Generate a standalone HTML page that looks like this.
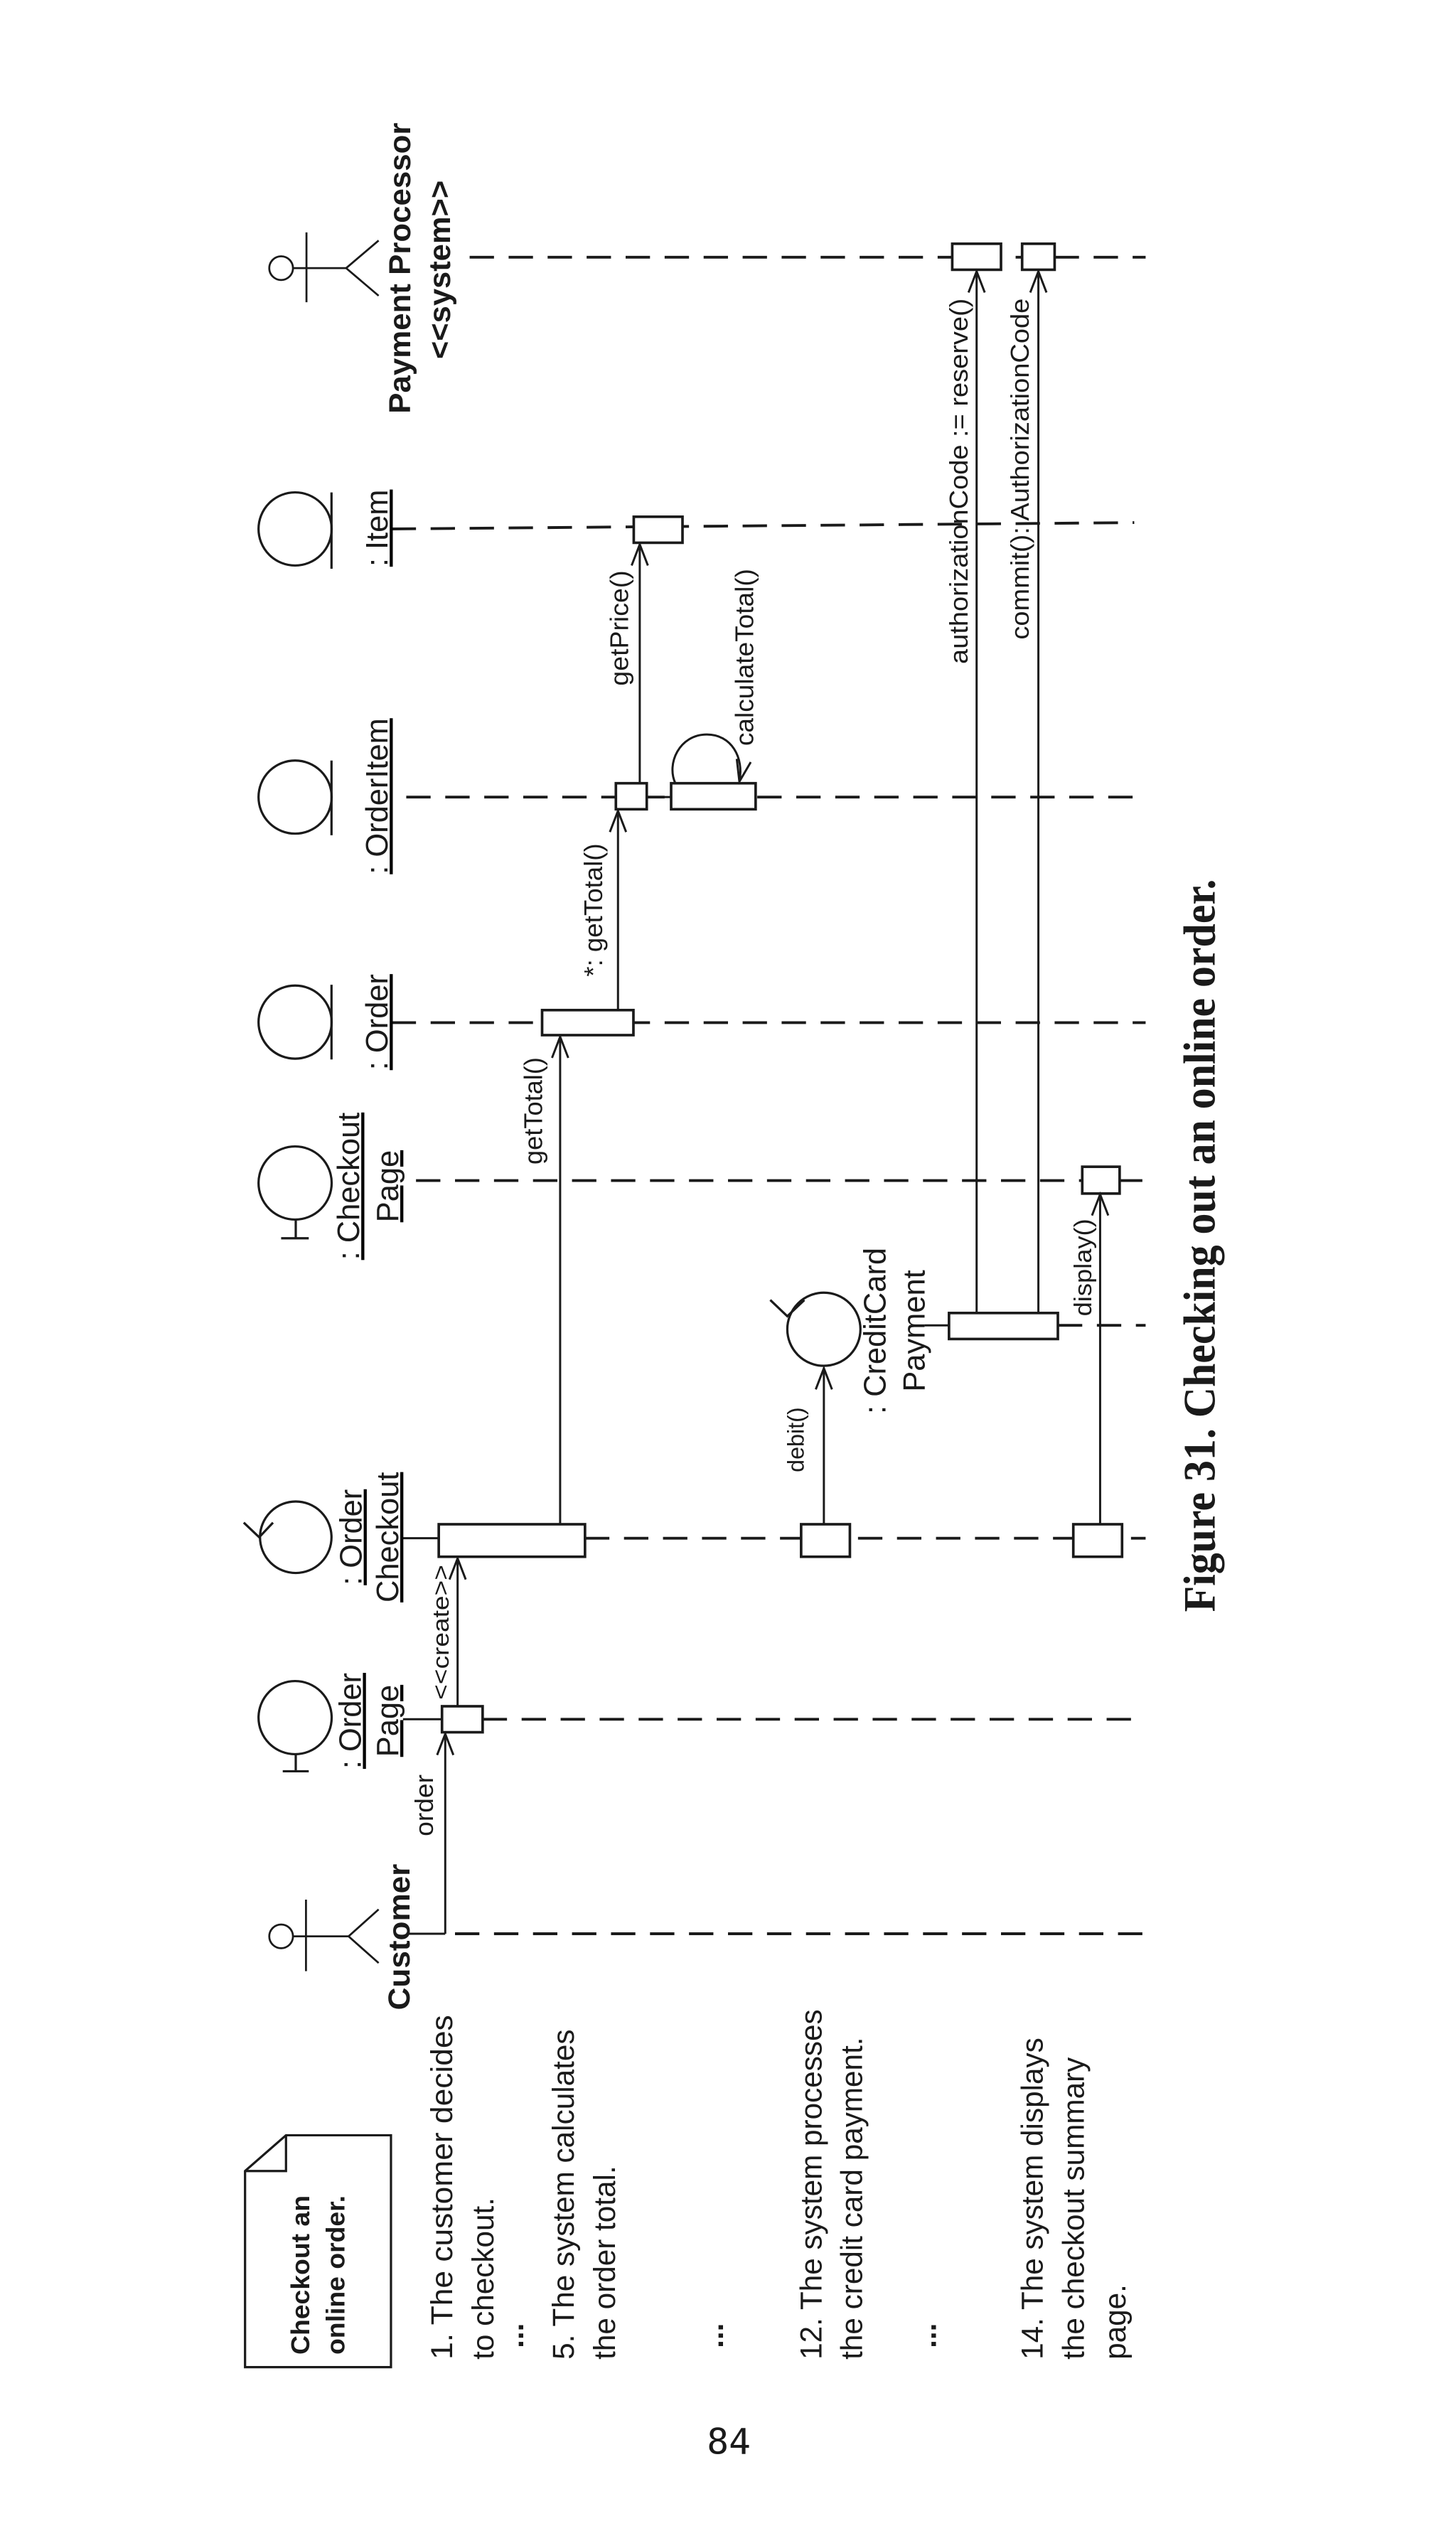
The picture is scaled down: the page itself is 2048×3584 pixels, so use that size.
<!DOCTYPE html>
<html><head><meta charset="utf-8"><style>
html,body{margin:0;padding:0;background:#fff;}
svg{display:block;}
text{font-family:"Liberation Sans",sans-serif;fill:#1a1a1a;}
</style></head><body>
<svg width="2048" height="3584" viewBox="0 0 896 1568" xmlns="http://www.w3.org/2000/svg">
<rect width="896" height="1568" fill="#fff"/>
<g stroke="#1a1a1a" fill="none">
<g stroke-width="1.7" stroke-dasharray="15 9">
<line x1="289" y1="158.3" x2="705" y2="158.3"/>
<line x1="241" y1="325.5" x2="698" y2="321.6"/>
<line x1="250" y1="490.5" x2="705" y2="490.5"/>
<line x1="241" y1="629.3" x2="705" y2="629.3"/>
<line x1="256" y1="726.5" x2="705" y2="726.5"/>
<line x1="651" y1="815.6" x2="705" y2="815.6"/>
<line x1="360" y1="946.6" x2="705" y2="946.6"/>
<line x1="297" y1="1058" x2="705" y2="1058"/>
<line x1="280" y1="1190" x2="705" y2="1190"/>
</g>
<g stroke-width="1.3">
<line x1="569" y1="815.6" x2="584" y2="815.6"/>
<line x1="248" y1="946.6" x2="270" y2="946.6"/>
<line x1="248" y1="1058" x2="272" y2="1058"/>
<line x1="250" y1="1190" x2="274" y2="1190"/>
<line x1="398" y1="490.5" x2="413" y2="490.5"/>
</g>
<g stroke-width="1.2">
<circle cx="173" cy="165" r="7.3"/>
<line x1="180.3" y1="165" x2="213" y2="165"/>
<line x1="188.6" y1="143" x2="188.6" y2="186"/>
<polyline points="233,148 213,165 233,182"/>
<circle cx="173" cy="1191.6" r="7.3"/>
<line x1="180.3" y1="1191.6" x2="214.5" y2="1191.6"/>
<line x1="188.3" y1="1169" x2="188.3" y2="1213"/>
<polyline points="233,1175 214.5,1191.6 233,1208"/>
</g>
<g stroke-width="1.4">
<circle cx="181.6" cy="325.5" r="22.5"/><line x1="204" y1="303" x2="204" y2="350"/>
<circle cx="181.6" cy="490.5" r="22.5"/><line x1="204" y1="468" x2="204" y2="514"/>
<circle cx="181.6" cy="629" r="22.5"/><line x1="204" y1="606" x2="204" y2="652"/>
<circle cx="181.6" cy="728" r="22.5"/><line x1="182" y1="750.5" x2="182" y2="762"/><line x1="173" y1="762" x2="190" y2="762"/>
<circle cx="181.6" cy="1057" r="22.5"/><line x1="182" y1="1079.5" x2="182" y2="1090"/><line x1="174" y1="1090" x2="190" y2="1090"/>
<circle cx="182" cy="946" r="22"/><polyline points="150,937 159.5,946 168,937"/>
<circle cx="507" cy="818" r="22.5"/><polyline points="474,800 484.5,810 495,800"/>
<path d="M176,1314 L240.6,1314 L240.6,1456.7 L150.8,1456.7 L150.8,1336 Z"/>
<polyline points="176,1314 176,1336 150.8,1336"/>
</g>
<g stroke-width="1.6" fill="#fff">
<rect x="586" y="150" width="30" height="16"/>
<rect x="629" y="150" width="20" height="16"/>
<rect x="390" y="318" width="30" height="16"/>
<rect x="379" y="482" width="19" height="16"/>
<rect x="413" y="482" width="52" height="16"/>
<rect x="333.6" y="621.6" width="56.2" height="15.4"/>
<rect x="666" y="718" width="23" height="16.5"/>
<rect x="584" y="808" width="67" height="16"/>
<rect x="270" y="938" width="90" height="20"/>
<rect x="493" y="938" width="30" height="20"/>
<rect x="660.5" y="938" width="30" height="20"/>
<rect x="272" y="1050" width="25" height="16"/>
</g>
<g stroke-width="1.3">
<line x1="274" y1="1190" x2="274" y2="1067"/><polyline points="269,1080 274,1067 279,1080"/>
<line x1="281.6" y1="1050" x2="281.6" y2="959"/><polyline points="276.6,972 281.6,959 286.6,972"/>
<line x1="344.7" y1="938" x2="344.7" y2="638"/><polyline points="339.7,651 344.7,638 349.7,651"/>
<line x1="380.3" y1="621.6" x2="380.3" y2="499"/><polyline points="375.3,512 380.3,499 385.3,512"/>
<line x1="393.7" y1="482" x2="393.7" y2="335"/><polyline points="388.7,348 393.7,335 398.7,348"/>
<path d="M415.6,482 C410,470 418,452 435,452 C450,452 458,466 455,481"/>
<polyline points="453.4,467 455,481 462,469"/>
<line x1="507" y1="938" x2="507" y2="842"/><polyline points="502,855 507,842 512,855"/>
<line x1="601" y1="808" x2="601" y2="167"/><polyline points="596,180 601,167 606,180"/>
<line x1="639" y1="808" x2="639" y2="167"/><polyline points="634,180 639,167 644,180"/>
<line x1="677" y1="938" x2="677" y2="735"/><polyline points="672,748 677,735 682,748"/>
</g>
</g>
<g font-size="18.8" font-weight="bold" text-anchor="middle">
<text transform="translate(252.5,165) rotate(-90)" textLength="179" lengthAdjust="spacingAndGlyphs">Payment Processor</text>
<text transform="translate(277,166) rotate(-90)" textLength="110" lengthAdjust="spacingAndGlyphs">&lt;&lt;system&gt;&gt;</text>
<text transform="translate(252,1192) rotate(-90)" textLength="90" lengthAdjust="spacingAndGlyphs">Customer</text>
</g>
<g font-size="19" text-anchor="middle" style="text-decoration:underline">
<text transform="translate(238.5,325) rotate(-90)">: Item</text>
<text transform="translate(238.5,490) rotate(-90)">: OrderItem</text>
<text transform="translate(238.5,629) rotate(-90)">: Order</text>
<text transform="translate(221,730) rotate(-90)">: Checkout</text>
<text transform="translate(245,730) rotate(-90)">Page</text>
<text transform="translate(222.5,946) rotate(-90)">: Order</text>
<text transform="translate(245,946) rotate(-90)">Checkout</text>
<text transform="translate(222,1059) rotate(-90)">: Order</text>
<text transform="translate(245,1059) rotate(-90)">Page</text>
</g>
<g font-size="19" text-anchor="middle">
<text transform="translate(545,819) rotate(-90)">: CreditCard</text>
<text transform="translate(569,819) rotate(-90)">Payment</text>
</g>
<g font-size="16">
<text transform="translate(266.5,1130) rotate(-90)" textLength="38" lengthAdjust="spacingAndGlyphs">order</text>
<text transform="translate(276,1046) rotate(-90)" font-size="14" textLength="83" lengthAdjust="spacingAndGlyphs">&lt;&lt;create&gt;&gt;</text>
<text transform="translate(333.5,716.6) rotate(-90)" textLength="66" lengthAdjust="spacingAndGlyphs">getTotal()</text>
<text transform="translate(370.5,601) rotate(-90)" textLength="82" lengthAdjust="spacingAndGlyphs">*: getTotal()</text>
<text transform="translate(386.5,422) rotate(-90)" textLength="71" lengthAdjust="spacingAndGlyphs">getPrice()</text>
<text transform="translate(463.6,459) rotate(-90)" textLength="109" lengthAdjust="spacingAndGlyphs">calculateTotal()</text>
<text transform="translate(595.5,408.6) rotate(-90)" textLength="225" lengthAdjust="spacingAndGlyphs">authorizationCode := reserve()</text>
<text transform="translate(633,393.6) rotate(-90)" textLength="210" lengthAdjust="spacingAndGlyphs">commit(): AuthorizationCode</text>
<text transform="translate(494.5,906) rotate(-90)" font-size="14" textLength="40" lengthAdjust="spacingAndGlyphs">debit()</text>
<text transform="translate(671.5,810) rotate(-90)" font-size="15" textLength="60" lengthAdjust="spacingAndGlyphs">display()</text>
</g>
<g font-size="16" font-weight="bold">
<text transform="translate(190.3,1449) rotate(-90)" textLength="98" lengthAdjust="spacingAndGlyphs">Checkout an</text>
<text transform="translate(212,1449) rotate(-90)" textLength="98" lengthAdjust="spacingAndGlyphs">online order.</text>
</g>
<g font-size="18.5">
<text transform="translate(278.3,1452) rotate(-90)" textLength="212" lengthAdjust="spacingAndGlyphs">1. The customer decides</text>
<text transform="translate(303.7,1452) rotate(-90)">to checkout.</text>
<text transform="translate(322,1445) rotate(-90)" font-weight="bold">...</text>
<text transform="translate(353,1452) rotate(-90)">5. The system calculates</text>
<text transform="translate(378.5,1452) rotate(-90)">the order total.</text>
<text transform="translate(445,1445) rotate(-90)" font-weight="bold">...</text>
<text transform="translate(505.5,1452) rotate(-90)">12. The system processes</text>
<text transform="translate(530.5,1452) rotate(-90)">the credit card payment.</text>
<text transform="translate(576,1445) rotate(-90)" font-weight="bold">...</text>
<text transform="translate(641.5,1452) rotate(-90)">14. The system displays</text>
<text transform="translate(667,1452) rotate(-90)">the checkout summary</text>
<text transform="translate(692.5,1452) rotate(-90)">page.</text>
</g>
<text transform="translate(747.5,992) rotate(-90)" font-weight="bold" font-size="28" textLength="451" lengthAdjust="spacingAndGlyphs" style="font-family:'Liberation Serif',serif">Figure 31.  Checking out an online order.</text>
<text x="435" y="1510" font-size="22" style="font-family:'DejaVu Sans Mono','Liberation Mono',monospace" textLength="27" lengthAdjust="spacingAndGlyphs">84</text>
</svg>
</body></html>
